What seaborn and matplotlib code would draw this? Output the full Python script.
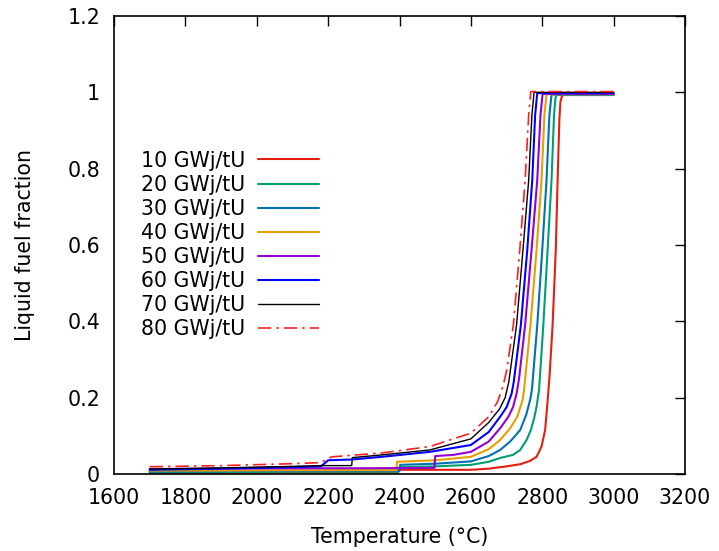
import numpy as np
import pandas as pd
import seaborn as sns
import matplotlib.pyplot as plt
from matplotlib.ticker import MultipleLocator, FuncFormatter

# valeurs (temperature en degC, fraction liquide)
temp_10 = [1700, 1900, 2100, 2300, 2395, 2397, 2500, 2600, 2650, 2700, 2740, 2765, 2784, 2798, 2808, 2814, 2820, 2829, 2838, 2843, 2848, 2851, 2856, 3000]
frac_10 = [0.003, 0.003, 0.004, 0.004, 0.004, 0.011, 0.011, 0.011, 0.014, 0.020, 0.026, 0.034, 0.045, 0.072, 0.115, 0.18, 0.25, 0.39, 0.59, 0.77, 0.93, 0.975, 0.993, 0.993]

temp_20 = [1700, 1900, 2100, 2300, 2398, 2400, 2500, 2600, 2650, 2682, 2718, 2738, 2756, 2768, 2777, 2784, 2791, 2803, 2815, 2826, 2833, 2837, 2840, 3000]
frac_20 = [0.005, 0.005, 0.006, 0.006, 0.006, 0.018, 0.020, 0.024, 0.032, 0.042, 0.05, 0.063, 0.089, 0.115, 0.145, 0.176, 0.22, 0.39, 0.587, 0.77, 0.94, 0.985, 0.993, 0.993]

temp_30 = [1700, 1900, 2100, 2300, 2400, 2402, 2500, 2600, 2650, 2682, 2710, 2738, 2755, 2766, 2771, 2786, 2800, 2812, 2820, 2826, 3000]
frac_30 = [0.007, 0.007, 0.008, 0.008, 0.008, 0.024, 0.027, 0.033, 0.047, 0.063, 0.085, 0.115, 0.155, 0.194, 0.22, 0.39, 0.587, 0.77, 0.94, 0.994, 0.994]

temp_40 = [1700, 1900, 2100, 2300, 2391, 2393, 2500, 2600, 2650, 2682, 2710, 2730, 2745, 2749, 2767, 2784, 2798, 2806, 2812, 3000]
frac_40 = [0.009, 0.009, 0.010, 0.010, 0.010, 0.032, 0.036, 0.045, 0.065, 0.089, 0.12, 0.15, 0.194, 0.22, 0.39, 0.587, 0.77, 0.94, 0.995, 0.995]

temp_50 = [1700, 1900, 2100, 2300, 2498, 2500, 2550, 2600, 2650, 2682, 2705, 2718, 2728, 2735, 2752, 2770, 2786, 2795, 2801, 3000]
frac_50 = [0.013, 0.014, 0.015, 0.015, 0.016, 0.047, 0.050, 0.058, 0.085, 0.12, 0.15, 0.175, 0.21, 0.25, 0.39, 0.587, 0.77, 0.94, 0.996, 0.996]

temp_60 = [1700, 1900, 2100, 2180, 2200, 2267, 2350, 2485, 2600, 2650, 2682, 2700, 2714, 2720, 2740, 2758, 2772, 2780, 2786, 3000]
frac_60 = [0.011, 0.014, 0.018, 0.020, 0.036, 0.038, 0.045, 0.058, 0.076, 0.11, 0.15, 0.175, 0.21, 0.24, 0.39, 0.587, 0.77, 0.94, 0.998, 0.998]

temp_70 = [1700, 1900, 2100, 2180, 2266, 2268, 2350, 2485, 2600, 2650, 2680, 2696, 2706, 2728, 2746, 2762, 2771, 2777, 3000]
frac_70 = [0.013, 0.016, 0.020, 0.022, 0.022, 0.043, 0.050, 0.063, 0.092, 0.135, 0.17, 0.2, 0.24, 0.39, 0.587, 0.77, 0.94, 1.0, 1.0]

temp_80 = [1700, 1900, 2100, 2180, 2210, 2350, 2485, 2600, 2650, 2675, 2690, 2700, 2719, 2737, 2752, 2762, 2768, 3000]
frac_80 = [0.019, 0.022, 0.027, 0.030, 0.045, 0.055, 0.072, 0.107, 0.15, 0.19, 0.23, 0.27, 0.39, 0.587, 0.77, 0.94, 1.002, 1.002]

labels = ["10 GWj/tU", "20 GWj/tU", "30 GWj/tU", "40 GWj/tU",
          "50 GWj/tU", "60 GWj/tU", "70 GWj/tU", "80 GWj/tU"]
temps = [temp_10, temp_20, temp_30, temp_40, temp_50, temp_60, temp_70, temp_80]
fracs = [frac_10, frac_20, frac_30, frac_40, frac_50, frac_60, frac_70, frac_80]

colors = ["#e51e10", "#009e73", "#0072b2", "#e69f00", "#9400d3", "#0000ff", "#000000", "#ff2020"]
widths = [1.5, 1.5, 1.5, 1.5, 1.5, 1.5, 1.0, 1.2]
styles = ["-"] * 7 + [(0, (8, 3, 1.5, 3))]

FS = 14.8

sns.set_theme(style="white")
plt.rcParams['font.family'] = ['DejaVu Sans']
plt.rcParams['font.size'] = FS
plt.rcParams['text.color'] = 'black'
plt.rcParams['axes.labelcolor'] = 'black'
plt.rcParams['xtick.color'] = 'black'
plt.rcParams['ytick.color'] = 'black'

fig = plt.figure(figsize=(7.19, 5.51), dpi=100)
ax = fig.add_axes([114 / 719, 1 - 474 / 551, 571 / 719, 458 / 551])

for lab, t, f, c, lw, ls in zip(labels, temps, fracs, colors, widths, styles):
    df = pd.DataFrame({"T": t, "f": f})
    sns.lineplot(data=df, x="T", y="f", ax=ax, color=c, linewidth=lw,
                 linestyle=ls, label=lab, sort=False, estimator=None)

ax.set_xlim(1600, 3200)
ax.set_ylim(0, 1.2)
ax.xaxis.set_major_locator(MultipleLocator(200))
ax.yaxis.set_major_locator(MultipleLocator(0.2))
ax.yaxis.set_major_formatter(FuncFormatter(lambda v, p: "%g" % round(v, 2)))
ax.tick_params(direction="in", length=7, width=1, top=True, right=True,
               labelsize=FS, colors="black")
ax.tick_params(axis="x", pad=10)
ax.tick_params(axis="y", pad=10)
for s in ax.spines.values():
    s.set_color("black")
    s.set_linewidth(1.2)

ax.set_xlabel("Temperature (°C)", fontsize=FS, labelpad=14, color="black")
ax.set_ylabel("Liquid fuel fraction", fontsize=FS, labelpad=23, color="black")

leg = ax.legend(loc="center left", bbox_to_anchor=(27 / 571, 0.50), frameon=False,
                markerfirst=False, handlelength=3.0, handletextpad=0.6,
                labelspacing=0.2, borderpad=0, borderaxespad=0, fontsize=FS)
for txt in leg.get_texts():
    txt.set_color("black")

plt.savefig("out.png", dpi=100)
